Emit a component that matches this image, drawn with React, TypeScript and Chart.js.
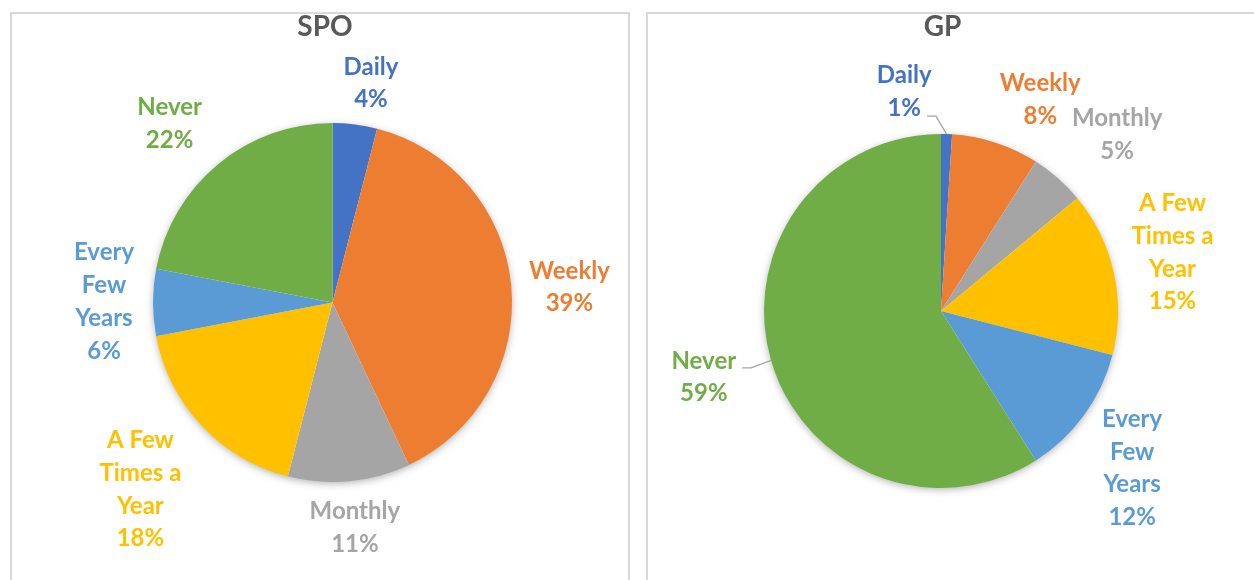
import React, { useEffect, useRef } from "react";
import { Chart, registerables } from "chart.js";

Chart.register(...registerables);

// ---------- data ----------
const categories = ["Daily", "Weekly", "Monthly", "A Few Times a Year", "Every Few Years", "Never"];
const categoryLines = [["Daily"], ["Weekly"], ["Monthly"], ["A Few", "Times a", "Year"], ["Every", "Few", "Years"], ["Never"]];
const spoValues = [4, 39, 11, 18, 6, 22];
const gpValues = [1, 8, 5, 15, 12, 59];
const sliceColors = ["#4472C4", "#ED7D31", "#A5A5A5", "#FFC000", "#5B9BD5", "#70AD47"];

// ---------- label placement (gap beyond rim in px, angular nudge in deg) ----------
const spoLabelGap = [44, 58, 46, 88, 49, 63];
const spoLabelTurn = [2.7, 1.5, -0.3, -0.9, 0.4, -2.6];
const spoLeaderDy = [null, null, null, null, null, null];
const gpLabelGap = [46, 57, 73, 62, 70, 69];
const gpLabelTurn = [-11.3, 7.1, 3.4, -1.8, 3.3, 0.8];
const gpLeaderDy = [25, null, null, null, null, -8.5];

const FONT = "Lato, 'Noto Sans', sans-serif";
const LABEL_SIZE = 24;
const LINE_H = 32.7;

const pieDecor = {
  id: "pieDecor",
  beforeDatasetsDraw(chart: any) {
    const ctx = chart.ctx;
    const arc = chart.getDatasetMeta(0).data[0];
    if (!arc) return;
    const { x, y, outerRadius } = arc.getProps(["x", "y", "outerRadius"], true);
    ctx.save();
    ctx.shadowColor = "rgba(0,0,0,0.35)";
    ctx.shadowBlur = 9;
    ctx.shadowOffsetY = 2;
    ctx.fillStyle = "#ffffff";
    ctx.beginPath();
    ctx.arc(x, y, outerRadius - 1, 0, Math.PI * 2);
    ctx.fill();
    ctx.restore();
  },
  afterDatasetsDraw(chart: any, _args: any, opts: any) {
    const ctx = chart.ctx;
    const meta = chart.getDatasetMeta(0);
    const values: number[] = chart.data.datasets[0].data;
    const total = values.reduce((a, b) => a + b, 0);
    ctx.save();
    // title
    ctx.font = `bold 28px ${FONT}`;
    ctx.fillStyle = "#595959";
    ctx.textAlign = "center";
    ctx.textBaseline = "alphabetic";
    ctx.fillText(opts.title, chart.width / 2, 23);

    ctx.font = `bold ${LABEL_SIZE}px ${FONT}`;
    const capHalf = LABEL_SIZE * 0.36;
    meta.data.forEach((el: any, i: number) => {
      const p = el.getProps(["x", "y", "outerRadius", "startAngle", "endAngle"], true);
      const midRaw = (p.startAngle + p.endAngle) / 2;
      const mid = midRaw + (opts.turns[i] * Math.PI) / 180;
      const dist = p.outerRadius + opts.gaps[i];
      const lx = p.x + dist * Math.cos(mid);
      const ly = p.y + dist * Math.sin(mid);
      const lines = [...categoryLines[i], Math.round((values[i] / total) * 100) + "%"];
      const n = lines.length;
      const centers = lines.map((_, k) => ly + (k - (n - 1) / 2) * LINE_H);
      ctx.fillStyle = sliceColors[i];
      ctx.textAlign = "center";
      lines.forEach((t, k) => ctx.fillText(t, lx, centers[k] + capHalf));

      const dy = opts.leaderDy[i];
      if (dy !== null && dy !== undefined) {
        const sy = ly + dy;
        let best = 0;
        centers.forEach((c, k) => {
          if (Math.abs(c - sy) < Math.abs(centers[best] - sy)) best = k;
        });
        const w = ctx.measureText(lines[best]).width;
        const px = p.x + p.outerRadius * Math.cos(midRaw);
        const py = p.y + p.outerRadius * Math.sin(midRaw);
        const dir = px >= lx ? 1 : -1;
        const sx = lx + dir * (w / 2 + 6);
        ctx.strokeStyle = "#A6A6A6";
        ctx.lineWidth = 1.3;
        ctx.beginPath();
        ctx.moveTo(sx, sy);
        ctx.lineTo(sx + dir * 9, sy);
        ctx.lineTo(px, py);
        ctx.stroke();
      }
    });
    ctx.restore();
  },
};

type PieProps = {
  values: number[];
  title: string;
  left: number;
  top: number;
  width: number;
  height: number;
  padding: { top: number; bottom: number; left: number; right: number };
  gaps: number[];
  turns: number[];
  leaderDy: (number | null)[];
};

function PieCanvas(props: PieProps) {
  const ref = useRef<HTMLCanvasElement>(null);
  useEffect(() => {
    if (!ref.current) return;
    const chart = new Chart(ref.current, {
      type: "pie",
      data: {
        labels: categories,
        datasets: [
          {
            data: props.values,
            backgroundColor: sliceColors,
            borderWidth: 0,
          },
        ],
      },
      options: {
        responsive: false,
        animation: false,
        layout: { padding: props.padding },
        plugins: {
          legend: { display: false },
          tooltip: { enabled: false },
          title: { display: false },
          pieDecor: {
            title: props.title,
            gaps: props.gaps,
            turns: props.turns,
            leaderDy: props.leaderDy,
          },
        } as any,
      },
      plugins: [pieDecor as any],
    });
    return () => chart.destroy();
  }, []);
  return (
    <canvas
      ref={ref}
      width={props.width}
      height={props.height}
      style={{ position: "absolute", left: props.left, top: props.top, width: props.width, height: props.height }}
    />
  );
}

export default function App() {
  return (
    <div style={{ position: "fixed", left: 0, top: 0, width: 1254, height: 580, background: "#fff", overflow: "hidden" }}>
      <div style={{ position: "absolute", left: 10, top: 12, width: 616, height: 620, border: "2px solid #D9D9D9" }} />
      <div style={{ position: "absolute", left: 646, top: 12, width: 700, height: 620, border: "2px solid #D9D9D9" }} />
      <PieCanvas
        values={spoValues}
        title="SPO"
        left={11}
        top={13}
        width={628}
        height={567}
        padding={{ top: 110, bottom: 98, left: 142, right: 127 }}
        gaps={spoLabelGap}
        turns={spoLabelTurn}
        leaderDy={spoLeaderDy}
      />
      <PieCanvas
        values={gpValues}
        title="GP"
        left={648}
        top={13}
        width={589}
        height={567}
        padding={{ top: 121, bottom: 92, left: 116, right: 119 }}
        gaps={gpLabelGap}
        turns={gpLabelTurn}
        leaderDy={gpLeaderDy}
      />
    </div>
  );
}
